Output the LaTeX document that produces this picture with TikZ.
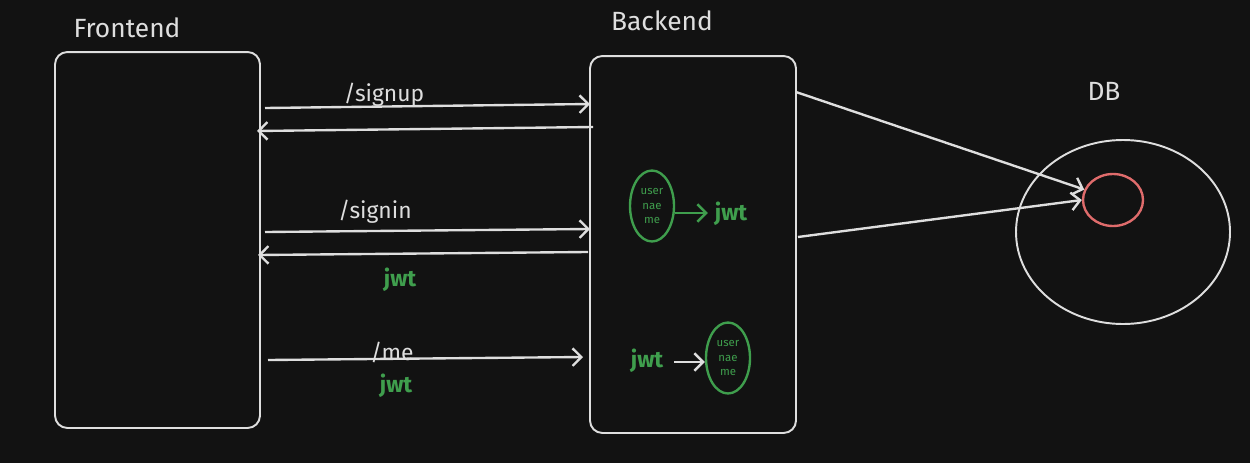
\documentclass[tikz,border=0pt]{standalone}
\usepackage{fontspec}
\setmainfont{Fira Sans}
\usetikzlibrary{arrows.meta,shapes.geometric}

\definecolor{bg}{HTML}{121212}
\definecolor{chalk}{HTML}{DEDEDE}
\definecolor{leaf}{HTML}{3F9E4D}
\definecolor{rose}{HTML}{E06C6C}

\begin{document}
\begin{tikzpicture}[x=0.02cm, y=-0.02cm, semithick, line width=1.35pt,
    >={Straight Barb[length=5pt,width=10pt]},
    box/.style={draw=chalk, line width=1.1pt, rounded corners=7pt},
    title/.style={text=chalk, font=\fontsize{15}{18}\selectfont},
    route/.style={text=chalk, font=\fontsize{13}{16}\selectfont},
    token/.style={text=leaf, font=\bfseries\fontsize{13}{16}\selectfont},
    user/.style={draw=leaf, ellipse, text=leaf, align=center, inner sep=0pt,
      minimum width=0.88cm, minimum height=1.42cm, font=\fontsize{6.5}{8.5}\selectfont}]
  \fill[bg] (0,0) rectangle (1250,463);

  \node[box, minimum width=4.1cm, minimum height=7.52cm]  (frontend) at (157.5,240) {};
  \node[box, minimum width=4.12cm, minimum height=7.54cm] (backend)  at (693,244.5) {};
  \node[title] (fetitle) at (127,28) {Frontend};
  \node[title] (betitle) at (662,21) {Backend};
  \node[title] (dbtitle) at (1104,91) {DB};

  % database
  \draw[chalk, line width=1.1pt] (1123,232) ellipse [x radius=107, y radius=92];
  \node[draw=rose, ellipse, minimum width=1.2cm, minimum height=1.04cm] (table) at (1113,200) {};

  % signup
  \coordinate (su1) at (265,108);  \coordinate (su2) at (590,104);
  \coordinate (su3) at (593,127);  \coordinate (su4) at (257,131);
  \draw[chalk, ->] (su1) -- (su2);
  \draw[chalk, ->] (su3) -- (su4);
  \node[route] (signup) at (384,95) {/signup};

  % signin
  \coordinate (si1) at (265,232);  \coordinate (si2) at (590,229);
  \coordinate (si3) at (588,252);  \coordinate (si4) at (258,255);
  \draw[chalk, ->] (si1) -- (si2);
  \draw[chalk, ->] (si3) -- (si4);
  \node[route] (signin) at (375,212) {/signin};
  \node[token] (jwtout) at (400,280) {jwt};

  % me
  \coordinate (me1) at (268,360);  \coordinate (me2) at (583,357);
  \draw[chalk, ->] (me1) -- (me2);
  \node[route] (me) at (392,352) {/me};
  \node[token] (jwtin) at (396,386) {jwt};

  % inside backend
  \node[user] (signuser) at (652,206) {user\\nae\\me};
  \node[token] (signjwt) at (731,214) {jwt};
  \draw[leaf, ->] (signuser.east) ++(0,7) -- (signjwt.west |- 0,213);

  \node[token] (mejwt) at (647,361) {jwt};
  \node[user] (meuser) at (728,358) {user\\nae\\me};
  \draw[chalk, ->] (mejwt.east) ++(4,1) -- (meuser.west |- 0,362);

  % to the database
  \coordinate (b1) at (796,92);  \coordinate (b2) at (798,237);
  \draw[chalk, ->] (b1) -- (table.160);
  \draw[chalk, ->] (b2) -- (table.west);
\end{tikzpicture}
\end{document}
